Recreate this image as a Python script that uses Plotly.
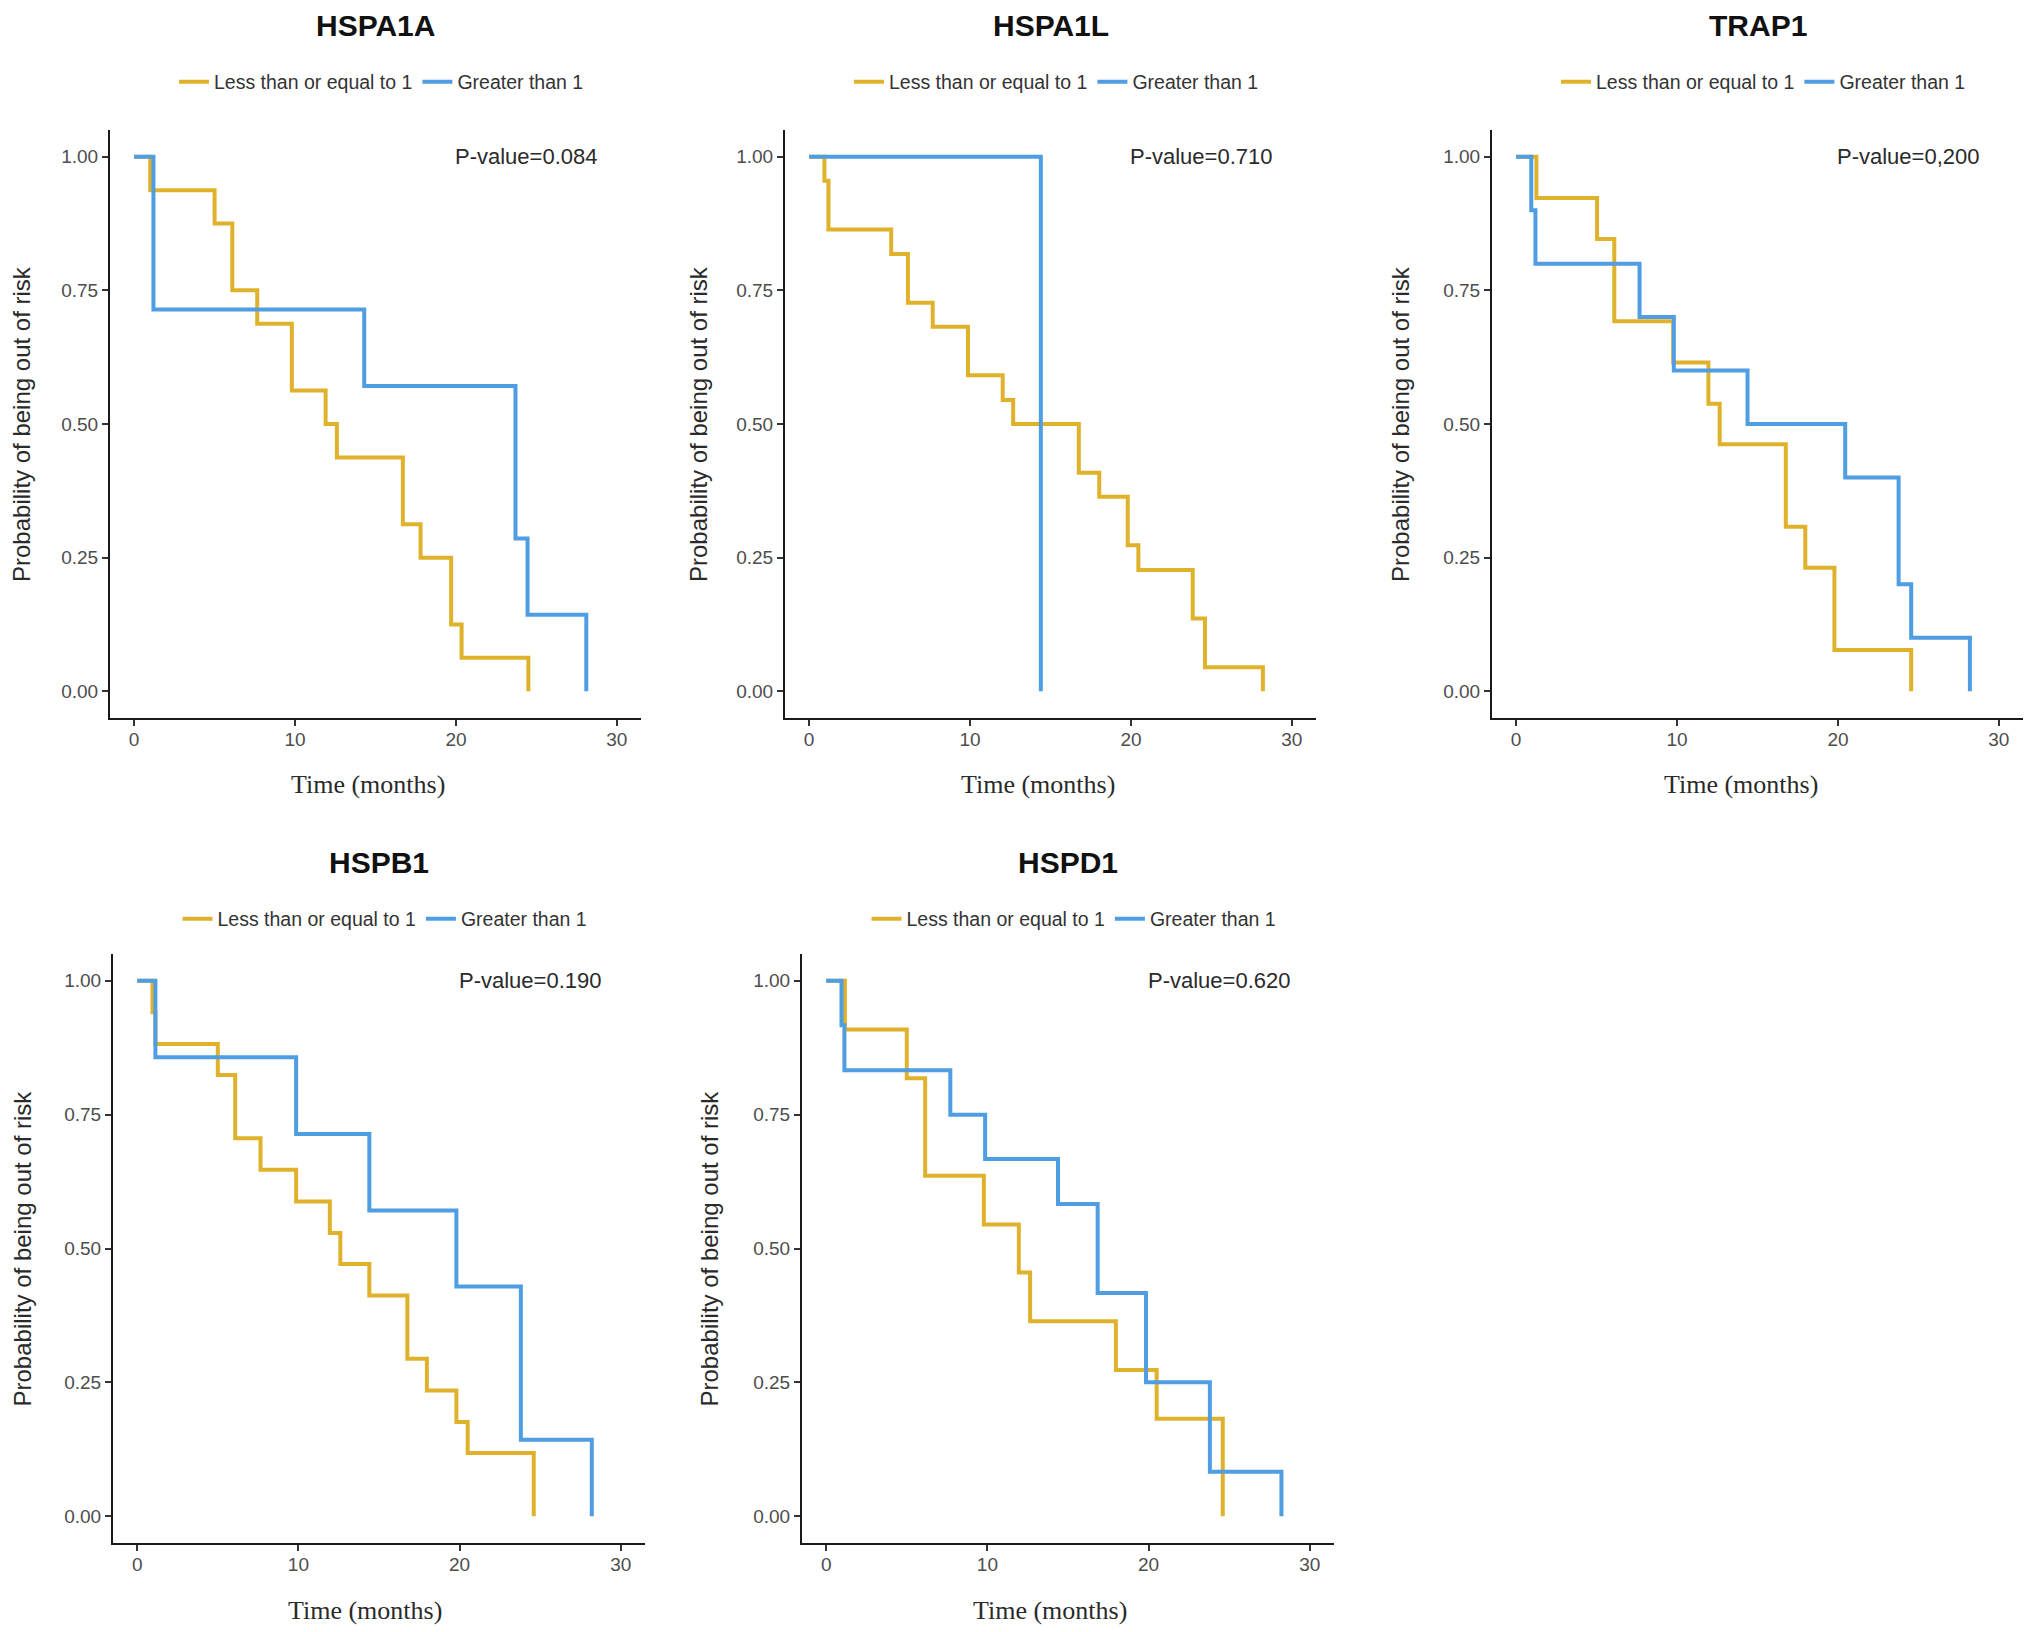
import plotly.graph_objects as go

W, H = 2031, 1632

genes = ["HSPA1A", "HSPA1L", "TRAP1", "HSPB1", "HSPD1"]
pvalues = ["P-value=0.084", "P-value=0.710", "P-value=0,200", "P-value=0.190", "P-value=0.620"]
group_names = ["Less than or equal to 1", "Greater than 1"]
x_ticks = [0, 10, 20, 30]
y_ticks = [0.0, 0.25, 0.5, 0.75, 1.0]

# Kaplan-Meier step curves (time in months, survival probability)
HSPA1A_low_t = [0, 1.0, 5.0, 6.1, 7.65, 9.8, 11.9, 12.6, 16.7, 17.8, 19.7, 20.35, 24.5]
HSPA1A_low_s = [1, 0.9375, 0.875, 0.75, 0.6875, 0.5625, 0.5, 0.4375, 0.3125, 0.25, 0.125, 0.0625, 0]
HSPA1A_high_t = [0, 1.2, 14.3, 23.7, 24.45, 28.1]
HSPA1A_high_s = [1, 0.714, 0.571, 0.286, 0.143, 0]

HSPA1L_low_t = [0, 0.95, 1.2, 5.1, 6.14, 7.68, 9.87, 12.03, 12.68, 16.76, 18.03, 19.8, 20.46, 23.84, 24.6, 28.2]
HSPA1L_low_s = [1, 0.955, 0.864, 0.818, 0.727, 0.682, 0.591, 0.545, 0.5, 0.409, 0.364, 0.273, 0.227, 0.136, 0.045, 0]
HSPA1L_high_t = [0, 14.4]
HSPA1L_high_s = [1, 0]

TRAP1_low_t = [0, 1.26, 5.03, 6.1, 9.76, 11.95, 12.65, 16.76, 17.97, 19.78, 24.55]
TRAP1_low_s = [1, 0.923, 0.846, 0.692, 0.615, 0.538, 0.462, 0.308, 0.231, 0.077, 0]
TRAP1_high_t = [0, 0.94, 1.2, 7.67, 9.8, 14.38, 20.45, 23.77, 24.55, 28.2]
TRAP1_high_s = [1, 0.9, 0.8, 0.7, 0.6, 0.5, 0.4, 0.2, 0.1, 0]

HSPB1_low_t = [0, 0.95, 1.13, 5.0, 6.08, 7.65, 9.86, 11.95, 12.6, 14.4, 16.76, 17.97, 19.8, 20.5, 24.6]
HSPB1_low_s = [1, 0.941, 0.882, 0.824, 0.706, 0.647, 0.588, 0.529, 0.471, 0.412, 0.294, 0.235, 0.176, 0.118, 0]
HSPB1_high_t = [0, 1.13, 9.86, 14.4, 19.8, 23.8, 28.2]
HSPB1_high_s = [1, 0.857, 0.714, 0.571, 0.429, 0.143, 0]

HSPD1_low_t = [0, 1.16, 5.0, 6.14, 9.78, 11.95, 12.65, 17.97, 20.5, 24.6]
HSPD1_low_s = [1, 0.909, 0.818, 0.636, 0.545, 0.455, 0.364, 0.273, 0.182, 0]
HSPD1_high_t = [0, 0.95, 1.13, 7.7, 9.86, 14.38, 16.84, 19.84, 23.8, 28.24]
HSPD1_high_s = [1, 0.917, 0.833, 0.75, 0.667, 0.583, 0.417, 0.25, 0.083, 0]

curves = [
    ((HSPA1A_low_t, HSPA1A_low_s), (HSPA1A_high_t, HSPA1A_high_s)),
    ((HSPA1L_low_t, HSPA1L_low_s), (HSPA1L_high_t, HSPA1L_high_s)),
    ((TRAP1_low_t, TRAP1_low_s), (TRAP1_high_t, TRAP1_high_s)),
    ((HSPB1_low_t, HSPB1_low_s), (HSPB1_high_t, HSPB1_high_s)),
    ((HSPD1_low_t, HSPD1_low_s), (HSPD1_high_t, HSPD1_high_s)),
]

COLORS = ["#E0B22C", "#4F9DE2"]
SANS = "Liberation Sans, Arial, Helvetica, sans-serif"
SERIF = "Liberation Serif, Times New Roman, serif"

# panel boxes in pixels: (left, right, top, bottom)
boxes = [
    (110, 641, 130, 718),
    (785, 1316, 130, 718),
    (1492, 2023, 130, 718),
    (113, 645, 954, 1543),
    (802, 1334, 954, 1543),
]
title_y = [26, 26, 26, 862, 862]
legend_y = [82, 82, 82, 919, 919]
ytitle_x = [22, 699, 1401, 22, 709]
xtitle_y = [784, 784, 784, 1610, 1610]
xtitle_x = [368, 1038, 1741, 365, 1050]


def px(x):
    return x / W


def py(y):
    return 1 - y / H


fig = go.Figure()
layout = dict(
    width=W, height=H, autosize=False,
    margin=dict(l=0, r=0, t=0, b=0),
    paper_bgcolor="white", plot_bgcolor="white",
    font=dict(family=SANS, color="#333333"),
    annotations=[],
)

for i, gene in enumerate(genes):
    n = i + 1
    sx = "" if n == 1 else str(n)
    xa, ya = "x" + sx, "y" + sx
    leg = "legend" + sx
    l, r, t, b = boxes[i]
    for g in range(2):
        tt, ss = curves[i][g]
        fig.add_trace(go.Scatter(
            x=tt, y=ss, mode="lines", name=group_names[g],
            line=dict(shape="hv", color=COLORS[g], width=4),
            xaxis=xa, yaxis=ya, legend=leg, showlegend=True,
            hoverinfo="skip",
        ))
    axis_common = dict(
        showgrid=False, zeroline=False, showline=True, linecolor="#1a1a1a", linewidth=2,
        ticks="outside", ticklen=6, tickwidth=2, tickcolor="#333333",
        tickfont=dict(family=SANS, size=19, color="#4D4D4D"),
        fixedrange=True,
    )
    layout["xaxis" + sx] = dict(
        axis_common, domain=[px(l), px(r)], anchor=ya, range=[-1.5, 31.5],
        tickvals=x_ticks, ticktext=[str(v) for v in x_ticks], ticklabelstandoff=-3,
    )
    layout["yaxis" + sx] = dict(
        axis_common, domain=[py(b), py(t)], anchor=xa, range=[-0.05, 1.05],
        tickvals=y_ticks, ticktext=["%.2f" % v for v in y_ticks],
    )
    cx = (l + r) / 2
    layout[leg] = dict(
        orientation="h", x=px(cx + 6), y=py(legend_y[i]), xanchor="center", yanchor="middle",
        font=dict(family=SANS, size=19.5, color="#333333"), bgcolor="rgba(0,0,0,0)",
        itemwidth=30, tracegroupgap=0,
    )
    layout["annotations"] += [
        dict(text="<b>%s</b>" % gene, x=px(cx), y=py(title_y[i]), xref="paper", yref="paper",
             showarrow=False, xanchor="center", yanchor="middle",
             font=dict(family=SANS, size=30, color="#111111")),
        dict(text="Probability of being out of risk", x=px(ytitle_x[i]), y=py((t + b) / 2),
             xref="paper", yref="paper", showarrow=False, textangle=-90,
             xanchor="center", yanchor="middle",
             font=dict(family=SANS, size=24, color="#2a2a2a")),
        dict(text="Time (months)", x=px(xtitle_x[i]), y=py(xtitle_y[i]),
             xref="paper", yref="paper", showarrow=False, xanchor="center", yanchor="middle",
             font=dict(family=SERIF, size=26, color="#2a2a2a")),
        dict(text=pvalues[i], x=24.4, y=1.0, xref=xa, yref=ya, showarrow=False,
             xanchor="center", yanchor="middle",
             font=dict(family=SANS, size=22, color="#2a2a2a")),
    ]

fig.update_layout(**layout)
fig.write_html("out.html", config={"displayModeBar": False},
               post_script="document.body.style.margin='0px';")
